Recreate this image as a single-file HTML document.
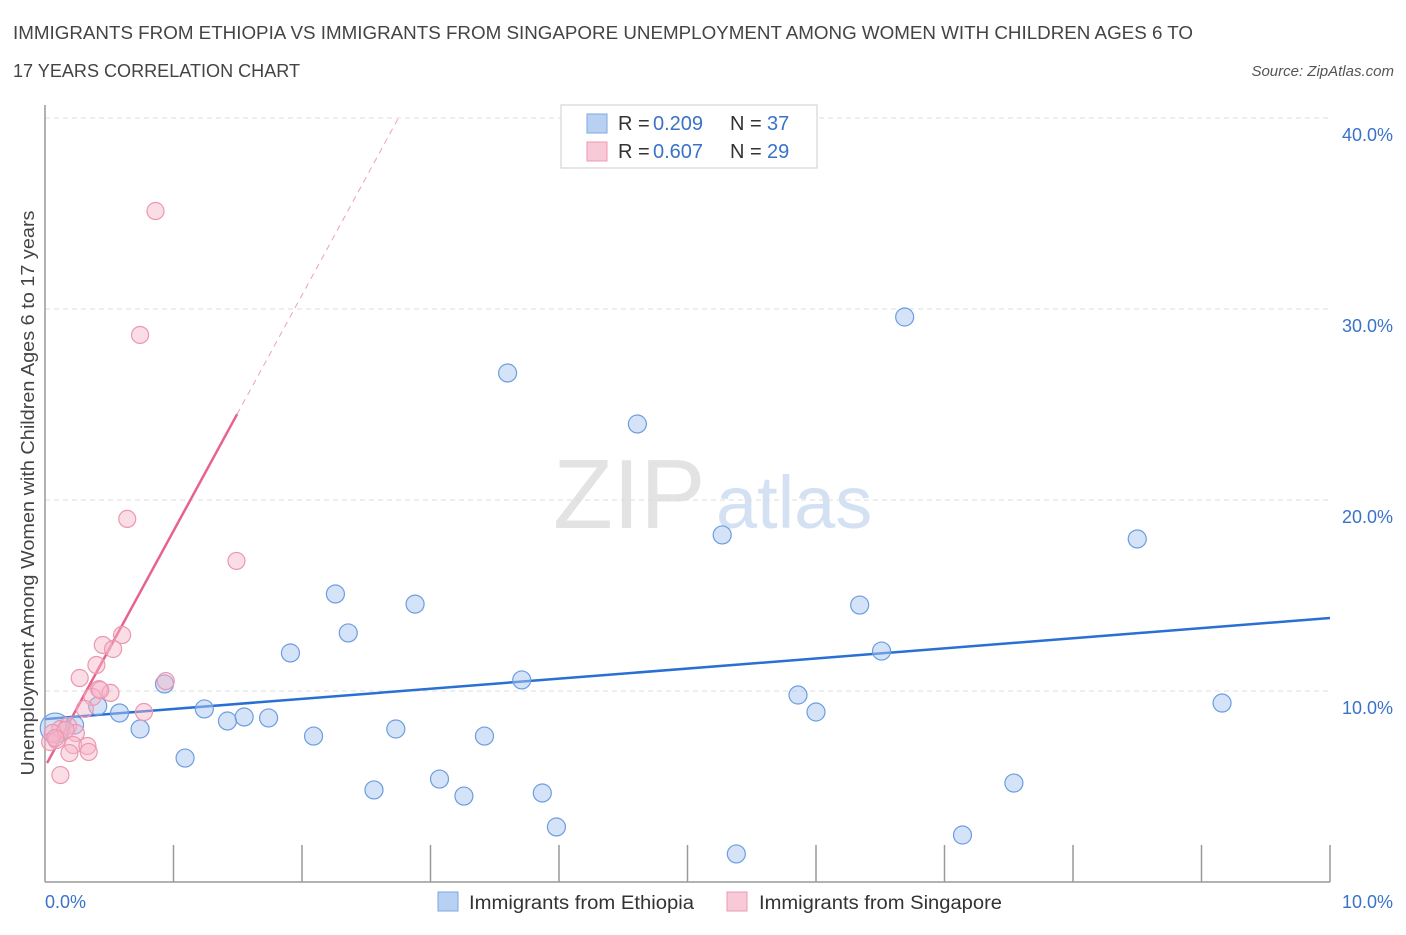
<!DOCTYPE html>
<html><head><meta charset="utf-8"><style>
body{margin:0;background:#fff;font-family:"Liberation Sans",sans-serif;}
svg text{font-family:"Liberation Sans",sans-serif;}
</style></head><body>
<svg id="chart" width="1406" height="930" viewBox="0 0 1406 930" xmlns="http://www.w3.org/2000/svg">
<text x="13" y="39" font-size="18" fill="#444" textLength="1180" lengthAdjust="spacingAndGlyphs">IMMIGRANTS FROM ETHIOPIA VS IMMIGRANTS FROM SINGAPORE UNEMPLOYMENT AMONG WOMEN WITH CHILDREN AGES 6 TO</text>
<text x="13" y="77" font-size="18" fill="#444" textLength="287" lengthAdjust="spacingAndGlyphs">17 YEARS CORRELATION CHART</text>
<text x="1394" y="76" font-size="15" fill="#555" text-anchor="end" font-style="italic">Source: ZipAtlas.com</text>
<text x="553" y="528" font-size="98" fill="#ddd" font-family="Liberation Serif" opacity="0.8">ZIP</text>
<text x="716" y="528" font-size="74" fill="#c9daf0" opacity="0.8">atlas</text>
<g id="grid"></g>
<line x1="45" y1="882" x2="1330" y2="882" stroke="#999" stroke-width="1.5"/>
<line x1="45" y1="105" x2="45" y2="882" stroke="#999" stroke-width="1.5"/>
<text transform="translate(34,493) rotate(-90)" font-size="18" fill="#444" text-anchor="middle" textLength="565" lengthAdjust="spacingAndGlyphs">Unemployment Among Women with Children Ages 6 to 17 years</text>
<text x="45" y="908" font-size="18" fill="#3a72c9">0.0%</text>
<text x="1393" y="908" font-size="18" fill="#3a72c9" text-anchor="end">10.0%</text>
<g id="ticks"></g>
<g id="lines"></g>
<g id="pts"></g>
<g>
<rect x="561" y="105" width="256" height="63" fill="#fff" stroke="#ccc"/>
<rect x="587" y="114" width="20" height="19" fill="#b8d1f3" stroke="#7fa6df"/>
<text x="618" y="130" font-size="20" fill="#333">R = </text><text x="653" y="130" font-size="20" fill="#3a72c9">0.209</text>
<text x="730" y="130" font-size="20" fill="#333">N = </text><text x="767" y="130" font-size="20" fill="#3a72c9">37</text>
<rect x="587" y="142" width="20" height="19" fill="#f8c9d6" stroke="#ec9ab3"/>
<text x="618" y="158" font-size="20" fill="#333">R = </text><text x="653" y="158" font-size="20" fill="#3a72c9">0.607</text>
<text x="730" y="158" font-size="20" fill="#333">N = </text><text x="767" y="158" font-size="20" fill="#3a72c9">29</text>
</g>
<g><rect x="438" y="892" width="20" height="19" fill="#b8d1f3" stroke="#7fa6df"/><text x="469" y="909" font-size="19" fill="#333" textLength="225" lengthAdjust="spacingAndGlyphs">Immigrants from Ethiopia</text></g>
<g><rect x="727" y="892" width="20" height="19" fill="#f8c9d6" stroke="#ec9ab3"/><text x="759" y="909" font-size="19" fill="#333" textLength="243" lengthAdjust="spacingAndGlyphs">Immigrants from Singapore</text></g>
</svg>
<script>
const yTicks=[10,20,30,40];
const yTickLabels=["10.0%","20.0%","30.0%","40.0%"];
const blueX=[0.08,0.23,0.41,0.58,0.74,0.93,1.09,1.24,1.42,1.55,1.74,1.91,2.09,2.26,2.36,2.56,2.73,2.88,3.07,3.26,3.42,3.60,3.71,3.87,3.98,4.61,5.27,5.38,5.86,6.00,6.34,6.51,6.69,7.14,7.54,8.50,9.16];
const blueY=[8.06,8.22,9.21,8.85,8.01,10.37,6.49,9.06,8.43,8.64,8.59,11.99,7.64,15.08,13.04,4.82,8.01,14.55,5.39,4.50,7.64,26.65,10.58,4.66,2.88,23.98,18.17,1.47,9.79,8.90,14.50,12.09,29.58,2.46,5.18,17.96,9.37];
const pinkX=[0.86,0.74,0.64,1.49,0.60,0.45,0.53,0.40,0.27,0.94,0.42,0.51,0.37,0.77,0.31,0.12,0.18,0.06,0.24,0.04,0.09,0.22,0.33,0.19,0.34,0.12,0.16,0.08,0.43];
const pinkY=[35.13,28.64,19.01,16.81,12.93,12.41,12.20,11.36,10.68,10.52,10.10,9.90,9.69,8.90,9.06,8.01,8.17,7.80,7.80,7.33,7.43,7.17,7.12,6.75,6.81,5.60,7.96,7.54,10.05];
const blueTrend=[8.53,13.82];
const pinkTrend=[6.03,12.35];
const NS="http://www.w3.org/2000/svg";
const xS=v=>45+v*128.5, yS=v=>882-v*19.1;
function mk(t,a,p){const e=document.createElementNS(NS,t);for(const k in a)e.setAttribute(k,a[k]);document.getElementById(p).appendChild(e);return e;}
yTicks.forEach((t,i)=>{
 const l=mk('line',{x1:45,x2:1330,y1:yS(t),y2:yS(t),stroke:'#ddd','stroke-dasharray':'5,4'},'grid');
 
 
 const tx=mk('text',{x:1393,y:yS(t)+23,'font-size':18,fill:'#3a72c9','text-anchor':'end'},'ticks');
 tx.textContent=yTickLabels[i];
 
 
});
for(let i=1;i<=10;i++){
 const l=mk('line',{x1:xS(i),x2:xS(i),y1:845,y2:882,stroke:'#999','stroke-width':1.5},'ticks');
 
 
}
let l=mk('line',{x1:xS(0),y1:yS(blueTrend[0]),x2:xS(10),y2:yS(blueTrend[1]),stroke:'#2a6fd4','stroke-width':2.5},'lines');


const pe=1.495, pd=(40-pinkTrend[0])/pinkTrend[1];
l=mk('line',{x1:xS(0.016),y1:yS(pinkTrend[0]+pinkTrend[1]*0.016),x2:xS(pe),y2:yS(pinkTrend[0]+pinkTrend[1]*pe),stroke:'#e8628e','stroke-width':2.5},'lines');


l=mk('line',{x1:xS(pe),y1:yS(pinkTrend[0]+pinkTrend[1]*pe),x2:xS(pd),y2:yS(40),stroke:'#eea0b8','stroke-width':1,'stroke-dasharray':'6,5'},'lines');


blueX.forEach((x,i)=>{
 const c=mk('circle',{cx:xS(x),cy:yS(blueY[i]),r:i==0?15:9,fill:'rgba(170,200,240,0.5)',stroke:'#6c9de0','stroke-width':1.2},'pts');
 
 
});
pinkX.forEach((x,i)=>{
 const c=mk('circle',{cx:xS(x),cy:yS(pinkY[i]),r:8.5,fill:'rgba(246,180,200,0.45)',stroke:'#ec97b2','stroke-width':1.2},'pts');
 
 
});
</script>
</body></html>
